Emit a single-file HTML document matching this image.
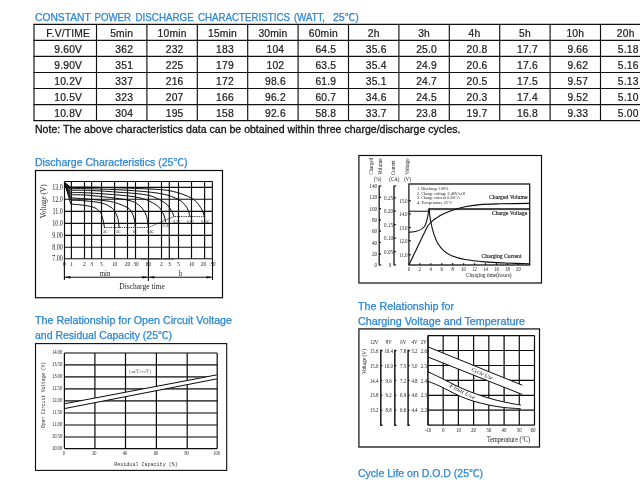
<!DOCTYPE html>
<html><head><meta charset="utf-8"><title>Discharge characteristics</title>
<style>
html,body{margin:0;padding:0;background:#fff;}
body{width:640px;height:482px;overflow:hidden;font-family:"Liberation Sans","Noto Sans CJK SC",sans-serif;}
svg{display:block;position:absolute;left:0;top:0}
.h{font-family:"Liberation Sans","Noto Sans CJK SC",sans-serif;fill:#2a86d2;stroke:#2a86d2;stroke-width:0.25px;font-size:10.6px}
.t{font-family:"Liberation Sans",sans-serif;fill:#1c1c1c;stroke:#1c1c1c;stroke-width:0.22px;font-size:10.3px;text-anchor:middle;letter-spacing:0.2px}
.n{font-family:"Liberation Sans",sans-serif;fill:#111;stroke:#111;stroke-width:0.3px;font-size:10.3px}
.s{font-family:"Liberation Serif","Noto Serif CJK SC",serif;fill:#222}
.m{font-family:"Liberation Mono","Noto Sans CJK SC",monospace;fill:#333}
.g{stroke:#0a0a0a;fill:none}
</style></head><body>
<svg width="640" height="482" viewBox="0 0 640 482">
<defs><filter id="b" x="-5%" y="-5%" width="110%" height="110%"><feGaussianBlur stdDeviation="0.38"/></filter></defs>

<text x="35" y="21.2" class="h" textLength="55.75" lengthAdjust="spacingAndGlyphs" >CONSTANT</text>
<text x="94.5" y="21.2" class="h" textLength="36.5" lengthAdjust="spacingAndGlyphs" >POWER</text>
<text x="135.5" y="21.2" class="h" textLength="58.25" lengthAdjust="spacingAndGlyphs" >DISCHARGE</text>
<text x="198" y="21.2" class="h" textLength="91.9" lengthAdjust="spacingAndGlyphs" >CHARACTERISTICS</text>
<text x="294" y="21.2" class="h" textLength="31" lengthAdjust="spacingAndGlyphs" >(WATT,</text>
<text x="333" y="21.2" class="h" textLength="25.7" lengthAdjust="spacingAndGlyphs" >25℃)</text>
<text x="35" y="132.5" class="n" textLength="425.5" lengthAdjust="spacingAndGlyphs" >Note: The above characteristics data can be obtained within three charge/discharge cycles.</text>
<text x="35" y="165.5" class="h" textLength="152.5" lengthAdjust="spacingAndGlyphs" >Discharge Characteristics (25℃)</text>
<text x="35" y="324.0" class="h" textLength="197" lengthAdjust="spacingAndGlyphs" >The Relationship for Open Circuit Voltage</text>
<text x="35" y="338.5" class="h" textLength="137" lengthAdjust="spacingAndGlyphs" >and Residual Capacity (25℃)</text>
<text x="358" y="310.1" class="h" textLength="96" lengthAdjust="spacingAndGlyphs" >The Relationship for</text>
<text x="358" y="324.5" class="h" textLength="167" lengthAdjust="spacingAndGlyphs" >Charging Voltage and Temperature</text>
<text x="358" y="476.5" class="h" textLength="125" lengthAdjust="spacingAndGlyphs" >Cycle Life on D.O.D (25℃)</text>
<g stroke="#111" stroke-width="1.15" fill="none">
<line x1="33.4" y1="24.30" x2="640" y2="24.30"/>
<line x1="33.4" y1="40.35" x2="640" y2="40.35"/>
<line x1="33.4" y1="56.40" x2="640" y2="56.40"/>
<line x1="33.4" y1="72.45" x2="640" y2="72.45"/>
<line x1="33.4" y1="88.50" x2="640" y2="88.50"/>
<line x1="33.4" y1="104.55" x2="640" y2="104.55"/>
<line x1="33.4" y1="120.60" x2="640" y2="120.60"/>
<line x1="34.00" y1="24.30" x2="34.00" y2="120.60"/>
<line x1="96.50" y1="24.30" x2="96.50" y2="120.60"/>
<line x1="146.90" y1="24.30" x2="146.90" y2="120.60"/>
<line x1="197.30" y1="24.30" x2="197.30" y2="120.60"/>
<line x1="247.70" y1="24.30" x2="247.70" y2="120.60"/>
<line x1="298.10" y1="24.30" x2="298.10" y2="120.60"/>
<line x1="348.50" y1="24.30" x2="348.50" y2="120.60"/>
<line x1="398.90" y1="24.30" x2="398.90" y2="120.60"/>
<line x1="449.30" y1="24.30" x2="449.30" y2="120.60"/>
<line x1="499.70" y1="24.30" x2="499.70" y2="120.60"/>
<line x1="550.10" y1="24.30" x2="550.10" y2="120.60"/>
<line x1="600.50" y1="24.30" x2="600.50" y2="120.60"/>
</g>
<text x="68.2" y="36.5" class="t" >F.V/TIME</text>
<text x="121.7" y="36.5" class="t" >5min</text>
<text x="172.1" y="36.5" class="t" >10min</text>
<text x="222.5" y="36.5" class="t" >15min</text>
<text x="272.9" y="36.5" class="t" >30min</text>
<text x="323.3" y="36.5" class="t" >60min</text>
<text x="373.7" y="36.5" class="t" >2h</text>
<text x="424.1" y="36.5" class="t" >3h</text>
<text x="474.5" y="36.5" class="t" >4h</text>
<text x="524.9" y="36.5" class="t" >5h</text>
<text x="575.3" y="36.5" class="t" >10h</text>
<text x="625.7" y="36.5" class="t" >20h</text>
<text x="68.2" y="52.5" class="t" >9.60V</text>
<text x="124.2" y="52.5" class="t" >362</text>
<text x="174.6" y="52.5" class="t" >232</text>
<text x="225.0" y="52.5" class="t" >183</text>
<text x="275.4" y="52.5" class="t" >104</text>
<text x="325.8" y="52.5" class="t" >64.5</text>
<text x="376.2" y="52.5" class="t" >35.6</text>
<text x="426.6" y="52.5" class="t" >25.0</text>
<text x="477.0" y="52.5" class="t" >20.8</text>
<text x="527.4" y="52.5" class="t" >17.7</text>
<text x="577.8" y="52.5" class="t" >9.66</text>
<text x="628.2" y="52.5" class="t" >5.18</text>
<text x="68.2" y="68.6" class="t" >9.90V</text>
<text x="124.2" y="68.6" class="t" >351</text>
<text x="174.6" y="68.6" class="t" >225</text>
<text x="225.0" y="68.6" class="t" >179</text>
<text x="275.4" y="68.6" class="t" >102</text>
<text x="325.8" y="68.6" class="t" >63.5</text>
<text x="376.2" y="68.6" class="t" >35.4</text>
<text x="426.6" y="68.6" class="t" >24.9</text>
<text x="477.0" y="68.6" class="t" >20.6</text>
<text x="527.4" y="68.6" class="t" >17.6</text>
<text x="577.8" y="68.6" class="t" >9.62</text>
<text x="628.2" y="68.6" class="t" >5.16</text>
<text x="68.2" y="84.7" class="t" >10.2V</text>
<text x="124.2" y="84.7" class="t" >337</text>
<text x="174.6" y="84.7" class="t" >216</text>
<text x="225.0" y="84.7" class="t" >172</text>
<text x="275.4" y="84.7" class="t" >98.6</text>
<text x="325.8" y="84.7" class="t" >61.9</text>
<text x="376.2" y="84.7" class="t" >35.1</text>
<text x="426.6" y="84.7" class="t" >24.7</text>
<text x="477.0" y="84.7" class="t" >20.5</text>
<text x="527.4" y="84.7" class="t" >17.5</text>
<text x="577.8" y="84.7" class="t" >9.57</text>
<text x="628.2" y="84.7" class="t" >5.13</text>
<text x="68.2" y="100.7" class="t" >10.5V</text>
<text x="124.2" y="100.7" class="t" >323</text>
<text x="174.6" y="100.7" class="t" >207</text>
<text x="225.0" y="100.7" class="t" >166</text>
<text x="275.4" y="100.7" class="t" >96.2</text>
<text x="325.8" y="100.7" class="t" >60.7</text>
<text x="376.2" y="100.7" class="t" >34.6</text>
<text x="426.6" y="100.7" class="t" >24.5</text>
<text x="477.0" y="100.7" class="t" >20.3</text>
<text x="527.4" y="100.7" class="t" >17.4</text>
<text x="577.8" y="100.7" class="t" >9.52</text>
<text x="628.2" y="100.7" class="t" >5.10</text>
<text x="68.2" y="116.8" class="t" >10.8V</text>
<text x="124.2" y="116.8" class="t" >304</text>
<text x="174.6" y="116.8" class="t" >195</text>
<text x="225.0" y="116.8" class="t" >158</text>
<text x="275.4" y="116.8" class="t" >92.6</text>
<text x="325.8" y="116.8" class="t" >58.8</text>
<text x="376.2" y="116.8" class="t" >33.7</text>
<text x="426.6" y="116.8" class="t" >23.8</text>
<text x="477.0" y="116.8" class="t" >19.7</text>
<text x="527.4" y="116.8" class="t" >16.8</text>
<text x="577.8" y="116.8" class="t" >9.33</text>
<text x="628.2" y="116.8" class="t" >5.00</text>
<g filter="url(#b)">
<rect x="35.5" y="170.5" width="187" height="127.2" class="g" stroke-width="1.2"/>
<g class="g" stroke-width="1.15">
<line x1="64.5" y1="181.4" x2="64.5" y2="258.7"/>
<line x1="71.4" y1="181.4" x2="71.4" y2="258.7"/>
<line x1="84.5" y1="181.4" x2="84.5" y2="258.7"/>
<line x1="91.6" y1="181.4" x2="91.6" y2="258.7"/>
<line x1="101.5" y1="181.4" x2="101.5" y2="258.7"/>
<line x1="114.6" y1="181.4" x2="114.6" y2="258.7"/>
<line x1="127.5" y1="181.4" x2="127.5" y2="258.7"/>
<line x1="135.5" y1="181.4" x2="135.5" y2="258.7"/>
<line x1="148.5" y1="181.4" x2="148.5" y2="258.7"/>
<line x1="161.5" y1="181.4" x2="161.5" y2="258.7"/>
<line x1="169.3" y1="181.4" x2="169.3" y2="258.7"/>
<line x1="178.5" y1="181.4" x2="178.5" y2="258.7"/>
<line x1="191.5" y1="181.4" x2="191.5" y2="258.7"/>
<line x1="204.6" y1="181.4" x2="204.6" y2="258.7"/>
<line x1="212.4" y1="181.4" x2="212.4" y2="258.7"/>
<line x1="64.4" y1="181.5" x2="212.5" y2="181.5"/>
<line x1="64.4" y1="187.3" x2="212.5" y2="187.3"/>
<line x1="64.4" y1="199.2" x2="212.5" y2="199.2"/>
<line x1="64.4" y1="211.4" x2="212.5" y2="211.4"/>
<line x1="64.4" y1="223.4" x2="212.5" y2="223.4"/>
<line x1="64.4" y1="235.4" x2="212.5" y2="235.4"/>
<line x1="64.4" y1="247.2" x2="212.5" y2="247.2"/>
<line x1="64.4" y1="258.7" x2="212.5" y2="258.7"/>
</g>
<g class="g" stroke-width="1.0">
<path d="M64.4,182.4 L70.8,204 C73.1,204.2 80.7,204.8 84.5,205.4 C88.3,206.0 91.2,206.5 93.5,207.3 C95.8,208.1 97.2,209.2 98.5,210.4 C99.8,211.7 100.8,212.8 101.6,214.8 C102.4,216.8 103.0,220.0 103.5,222.2 C104.0,224.4 104.3,226.9 104.5,227.8"/>
<path d="M64.4,182.4 L70.8,200.2 C73.1,200.3 79.4,200.3 84.5,200.8 C89.6,201.3 97.2,201.9 101.6,203.0 C106.0,204.1 108.8,205.9 111.0,207.3 C113.2,208.7 113.6,209.7 114.8,211.6 C115.9,213.5 117.2,215.8 117.9,218.5 C118.6,221.2 119.0,226.2 119.2,227.8"/>
<path d="M64.4,182.4 L70.8,197.8 C75.9,198.2 94.3,199.5 101.6,200.3 C108.9,201.1 110.4,201.4 114.8,202.6 C119.1,203.8 124.6,205.9 127.5,207.6 C130.4,209.3 130.9,210.9 132.0,212.8 C133.1,214.7 133.7,216.5 134.3,219.0 C134.9,221.5 135.2,226.3 135.4,227.8"/>
<path d="M64.4,182.4 L70.8,194.8 C74.0,194.9 80.5,194.5 90.0,195.4 C99.5,196.3 119.2,198.3 127.5,200.1 C135.8,201.9 136.9,203.6 140.0,206.1 C143.1,208.6 144.8,211.7 146.2,215.3 C147.6,218.9 148.0,225.6 148.4,227.6"/>
<path d="M64.4,182.4 L70.8,192.6 C74.0,192.7 79.2,192.3 90.0,193.0 C100.8,193.7 124.7,195.1 135.6,197.0 C146.5,198.9 151.0,201.8 155.6,204.6 C160.2,207.3 161.5,210.6 163.2,213.5 C164.9,216.4 165.2,220.6 165.6,222.0"/>
<path d="M64.4,182.4 L70.8,190.2 C74.0,190.2 81.8,190.1 90.0,190.4 C98.2,190.8 110.2,191.5 120.0,192.3 C129.8,193.1 141.1,193.6 148.6,195.4 C156.1,197.2 161.2,200.5 165.0,203.0 C168.8,205.5 169.8,208.3 171.3,210.6 C172.8,212.9 173.7,215.7 174.2,216.7"/>
<path d="M64.4,182.4 L70.8,188.6 C74.0,188.6 80.1,188.4 90.0,188.7 C99.9,189.0 118.1,189.6 130.0,190.4 C141.9,191.2 153.5,192.3 161.6,193.8 C169.7,195.3 174.6,197.6 178.6,199.6 C182.6,201.6 183.9,203.8 185.6,205.8 C187.3,207.8 187.9,209.7 188.6,211.5 C189.3,213.3 189.7,215.8 189.9,216.7"/>
<path d="M64.4,182.4 L70.8,187.2 C74.0,187.2 78.5,187.0 90.0,187.2 C101.5,187.4 126.7,188.0 140.0,188.6 C153.3,189.2 161.3,189.2 170.0,190.8 C178.7,192.4 186.7,195.5 191.9,198.4 C197.1,201.3 199.1,205.4 201.2,208.4 C203.3,211.4 203.9,215.3 204.4,216.7"/>
</g>
<path d="M104.2,227.5 H148.4 L173.9,216.6 H204.4" class="g" stroke-width="0.8" stroke-dasharray="1.3 0.9" stroke="#333"/>
<text class="s" font-size="4.8" text-anchor="middle" transform="translate(105.3,233) scale(0.8,1)" fill="#111">3C</text>
<text class="s" font-size="4.8" text-anchor="middle" transform="translate(118.5,233) scale(0.8,1)" fill="#111">2C</text>
<text class="s" font-size="4.8" text-anchor="middle" transform="translate(134.6,233) scale(0.8,1)" fill="#111">1C</text>
<text class="s" font-size="4.8" text-anchor="middle" transform="translate(150.5,233) scale(0.8,1)" fill="#111">0.6C</text>
<text class="s" font-size="4.8" text-anchor="middle" transform="translate(166.5,227.2) scale(0.8,1)" fill="#111">0.3C</text>
<text class="s" font-size="4.8" text-anchor="middle" transform="translate(177,222.6) scale(0.8,1)" fill="#111">0.2C</text>
<text class="s" font-size="4.8" text-anchor="middle" transform="translate(190.5,222.6) scale(0.8,1)" fill="#111">0.1C</text>
<text class="s" font-size="4.8" text-anchor="middle" transform="translate(205.5,222.6) scale(0.8,1)" fill="#111">0.05C</text>
<text class="s" font-size="7.3" text-anchor="end" transform="translate(62.8,189.60000000000002) scale(0.83,1)" >13.0</text>
<text class="s" font-size="7.3" text-anchor="end" transform="translate(62.8,201.5) scale(0.83,1)" >12.0</text>
<text class="s" font-size="7.3" text-anchor="end" transform="translate(62.8,213.70000000000002) scale(0.83,1)" >11.0</text>
<text class="s" font-size="7.3" text-anchor="end" transform="translate(62.8,225.70000000000002) scale(0.83,1)" >10.0</text>
<text class="s" font-size="7.3" text-anchor="end" transform="translate(62.8,237.70000000000002) scale(0.83,1)" >9.00</text>
<text class="s" font-size="7.3" text-anchor="end" transform="translate(62.8,249.5) scale(0.83,1)" >8.00</text>
<text class="s" font-size="7.3" text-anchor="end" transform="translate(62.8,261.0) scale(0.83,1)" >7.00</text>
<text class="s" font-size="7.6" text-anchor="middle" transform="translate(45.6,201.3) rotate(-90) scale(1,1)" textLength="34" lengthAdjust="spacingAndGlyphs" >Voltage (V)</text>
<text class="s" font-size="6.6" text-anchor="middle" transform="translate(64.4,265.6) scale(0.85,1)" >0</text>
<text class="s" font-size="6.6" text-anchor="middle" transform="translate(71.4,265.6) scale(0.85,1)" >1</text>
<text class="s" font-size="6.6" text-anchor="middle" transform="translate(84.5,265.6) scale(0.85,1)" >2</text>
<text class="s" font-size="6.6" text-anchor="middle" transform="translate(91.6,265.6) scale(0.85,1)" >3</text>
<text class="s" font-size="6.6" text-anchor="middle" transform="translate(101.5,265.6) scale(0.85,1)" >5</text>
<text class="s" font-size="6.6" text-anchor="middle" transform="translate(114.6,265.6) scale(0.85,1)" >10</text>
<text class="s" font-size="6.6" text-anchor="middle" transform="translate(127.5,265.6) scale(0.85,1)" >20</text>
<text class="s" font-size="6.6" text-anchor="middle" transform="translate(136.0,265.6) scale(0.85,1)" >30</text>
<text class="s" font-size="6.6" text-anchor="middle" transform="translate(148.5,265.6) scale(0.85,1)" >60</text>
<text class="s" font-size="6.6" text-anchor="middle" transform="translate(161.5,265.6) scale(0.85,1)" >2</text>
<text class="s" font-size="6.6" text-anchor="middle" transform="translate(169.3,265.6) scale(0.85,1)" >3</text>
<text class="s" font-size="6.6" text-anchor="middle" transform="translate(178.5,265.6) scale(0.85,1)" >5</text>
<text class="s" font-size="6.6" text-anchor="middle" transform="translate(191.5,265.6) scale(0.85,1)" >10</text>
<text class="s" font-size="6.6" text-anchor="middle" transform="translate(203.6,265.6) scale(0.85,1)" >20</text>
<text class="s" font-size="6.6" text-anchor="middle" transform="translate(212.8,265.6) scale(0.85,1)" >30</text>
<g class="g" stroke-width="1.1"><line x1="64.4" y1="258.6" x2="64.4" y2="280"/><line x1="148.4" y1="258.6" x2="148.4" y2="281"/><line x1="212.5" y1="258.6" x2="212.5" y2="280"/><line x1="64.4" y1="277.3" x2="212.5" y2="277.3"/></g>
<path d="M64.4,277.3 l6,-1.2 v2.4z M148.4,277.3 l-6,-1.2 v2.4z M148.4,277.3 l6,-1.2 v2.4z M212.5,277.3 l-6,-1.2 v2.4z" fill="#111"/>
<line x1="141" y1="259" x2="174" y2="259" stroke="#444" stroke-width="1.1"/>
<text class="s" font-size="7.6" text-anchor="middle" transform="translate(105,276.4) scale(0.9,1)" >min</text>
<text class="s" font-size="7.6" text-anchor="middle" transform="translate(180.5,276.4) scale(0.9,1)" >h</text>
<text class="s" font-size="8.2" text-anchor="middle" transform="translate(142,288.6) scale(1,1)" textLength="45.5" lengthAdjust="spacingAndGlyphs" >Discharge time</text>
</g>
<g filter="url(#b)">
<rect x="358.9" y="155.5" width="182.6" height="127.5" class="g" stroke-width="1.15"/>
<rect x="408.9" y="184" width="120.8" height="81" class="g" stroke-width="1.2"/>
<g class="g" stroke-width="1.2">
<path d="M381.4,186 H379.2 V265 H381.4"/>
<path d="M396.2,186 H394 V265 H396.2"/>
<line x1="379.2" y1="197.3" x2="381" y2="197.3"/>
<line x1="379.2" y1="208.6" x2="381" y2="208.6"/>
<line x1="379.2" y1="219.9" x2="381" y2="219.9"/>
<line x1="379.2" y1="231.2" x2="381" y2="231.2"/>
<line x1="379.2" y1="242.5" x2="381" y2="242.5"/>
<line x1="379.2" y1="253.8" x2="381" y2="253.8"/>
<line x1="394" y1="251.6" x2="395.8" y2="251.6"/>
<line x1="394" y1="238.1" x2="395.8" y2="238.1"/>
<line x1="394" y1="224.7" x2="395.8" y2="224.7"/>
<line x1="394" y1="211.2" x2="395.8" y2="211.2"/>
<line x1="394" y1="197.8" x2="395.8" y2="197.8"/>
<line x1="408.9" y1="200.8" x2="410.8" y2="200.8"/>
<line x1="408.9" y1="214" x2="410.8" y2="214"/>
<line x1="408.9" y1="227.5" x2="410.8" y2="227.5"/>
<line x1="408.9" y1="240.8" x2="410.8" y2="240.8"/>
<line x1="408.9" y1="254.8" x2="410.8" y2="254.8"/>
<line x1="419.8" y1="265" x2="419.8" y2="263.2"/>
<line x1="430.8" y1="265" x2="430.8" y2="263.2"/>
<line x1="441.8" y1="265" x2="441.8" y2="263.2"/>
<line x1="452.7" y1="265" x2="452.7" y2="263.2"/>
<line x1="463.6" y1="265" x2="463.6" y2="263.2"/>
<line x1="474.6" y1="265" x2="474.6" y2="263.2"/>
<line x1="485.5" y1="265" x2="485.5" y2="263.2"/>
<line x1="496.5" y1="265" x2="496.5" y2="263.2"/>
<line x1="507.4" y1="265" x2="507.4" y2="263.2"/>
<line x1="518.4" y1="265" x2="518.4" y2="263.2"/>
</g>
<g class="g" stroke-width="1.1">
<path d="M408.9,211.3 H428.2 L429.1,209.2 C429.4,211.2 429.8,216.9 430.6,221.0 C431.4,225.1 432.6,230.2 433.8,233.9 C435.0,237.6 436.0,240.4 437.7,243.2 C439.4,246.0 441.6,248.7 443.9,250.8 C446.2,252.9 448.2,254.2 451.7,255.7 C455.2,257.1 459.4,258.5 465.0,259.5 C470.6,260.5 478.3,261.3 485.0,261.9 C491.7,262.5 497.6,262.7 505.0,263.0 C512.5,263.3 525.6,263.7 529.7,263.8"/>
<path d="M408.9,232.2 C415,232 421,231 424.5,226.5 C427,222.5 428,216 429,208.7 H529.7"/>
<path d="M429.5,209.6 H529.7" stroke-width="0.7"/>
<path d="M408.9,265 L427.6,226 C428.3,225.2 430.6,222.6 432.0,221.3 C433.4,220.0 434.6,219.3 436.1,218.3 C437.6,217.3 438.2,216.5 440.8,215.2 C443.4,213.9 447.7,212.0 451.7,210.6 C455.7,209.2 460.3,207.7 465.0,206.7 C469.7,205.7 474.2,205.1 480.0,204.6 C485.8,204.1 491.7,204.0 500.0,203.8 C508.3,203.6 524.8,203.5 529.7,203.4"/>
</g>
<text class="s" font-size="6" text-anchor="end" transform="translate(377.2,188.0) scale(0.88,1)" >140</text>
<text class="s" font-size="6" text-anchor="end" transform="translate(377.2,199.3) scale(0.88,1)" >120</text>
<text class="s" font-size="6" text-anchor="end" transform="translate(377.2,210.6) scale(0.88,1)" >100</text>
<text class="s" font-size="6" text-anchor="end" transform="translate(377.2,221.9) scale(0.88,1)" >80</text>
<text class="s" font-size="6" text-anchor="end" transform="translate(377.2,233.2) scale(0.88,1)" >60</text>
<text class="s" font-size="6" text-anchor="end" transform="translate(377.2,244.5) scale(0.88,1)" >40</text>
<text class="s" font-size="6" text-anchor="end" transform="translate(377.2,255.8) scale(0.88,1)" >20</text>
<text class="s" font-size="6" text-anchor="end" transform="translate(377.2,267.1) scale(0.88,1)" >0</text>
<text class="s" font-size="6" text-anchor="end" transform="translate(391.3,267.0) scale(0.85,1)" >0</text>
<text class="s" font-size="6" text-anchor="end" transform="translate(393,253.6) scale(0.85,1)" >0.05</text>
<text class="s" font-size="6" text-anchor="end" transform="translate(393,240.1) scale(0.85,1)" >0.10</text>
<text class="s" font-size="6" text-anchor="end" transform="translate(393,226.7) scale(0.85,1)" >0.15</text>
<text class="s" font-size="6" text-anchor="end" transform="translate(393,213.2) scale(0.85,1)" >0.20</text>
<text class="s" font-size="6" text-anchor="end" transform="translate(393,199.8) scale(0.85,1)" >0.25</text>
<text class="s" font-size="6" text-anchor="end" transform="translate(407.6,202.8) scale(0.83,1)" >15.0</text>
<text class="s" font-size="6" text-anchor="end" transform="translate(407.6,216.0) scale(0.83,1)" >14.0</text>
<text class="s" font-size="6" text-anchor="end" transform="translate(407.6,229.5) scale(0.83,1)" >13.0</text>
<text class="s" font-size="6" text-anchor="end" transform="translate(407.6,242.8) scale(0.83,1)" >12.0</text>
<text class="s" font-size="6" text-anchor="end" transform="translate(407.6,256.8) scale(0.83,1)" >11.0</text>
<text class="s" font-size="5.8" text-anchor="middle" transform="translate(408.9,270.8) scale(0.82,1)" >0</text>
<text class="s" font-size="5.8" text-anchor="middle" transform="translate(419.8,270.8) scale(0.82,1)" >2</text>
<text class="s" font-size="5.8" text-anchor="middle" transform="translate(430.8,270.8) scale(0.82,1)" >4</text>
<text class="s" font-size="5.8" text-anchor="middle" transform="translate(441.8,270.8) scale(0.82,1)" >6</text>
<text class="s" font-size="5.8" text-anchor="middle" transform="translate(452.7,270.8) scale(0.82,1)" >8</text>
<text class="s" font-size="5.8" text-anchor="middle" transform="translate(463.6,270.8) scale(0.82,1)" >10</text>
<text class="s" font-size="5.8" text-anchor="middle" transform="translate(474.6,270.8) scale(0.82,1)" >12</text>
<text class="s" font-size="5.8" text-anchor="middle" transform="translate(485.5,270.8) scale(0.82,1)" >14</text>
<text class="s" font-size="5.8" text-anchor="middle" transform="translate(496.5,270.8) scale(0.82,1)" >16</text>
<text class="s" font-size="5.8" text-anchor="middle" transform="translate(507.4,270.8) scale(0.82,1)" >18</text>
<text class="s" font-size="5.8" text-anchor="middle" transform="translate(518.4,270.8) scale(0.82,1)" >20</text>
<text class="s" font-size="5.8" text-anchor="middle" transform="translate(488.7,276.8) scale(1,1)" textLength="45.5" lengthAdjust="spacingAndGlyphs" >Charging time(hours)</text>
<text class="s" font-size="4.7" text-anchor="start" transform="translate(417,189.8) scale(1,1)" textLength="31.5" lengthAdjust="spacingAndGlyphs" >1. Discharge 100%</text>
<text class="s" font-size="4.7" text-anchor="start" transform="translate(417,194.5) scale(1,1)" textLength="48" lengthAdjust="spacingAndGlyphs" >2. Charge voltage 2.40V/cell</text>
<text class="s" font-size="4.7" text-anchor="start" transform="translate(417,199.2) scale(1,1)" textLength="43" lengthAdjust="spacingAndGlyphs" >3. Charge current 0.20CA</text>
<text class="s" font-size="4.7" text-anchor="start" transform="translate(417,203.9) scale(1,1)" textLength="35.5" lengthAdjust="spacingAndGlyphs" >4. Temperature 25°C</text>
<text class="s" font-size="5.8" text-anchor="start" transform="translate(489,198.7) scale(1,1)" textLength="38.5" lengthAdjust="spacingAndGlyphs" fill="#1a1a30" stroke="#1a1a30" stroke-width="0.15">Charged Volume</text>
<text class="s" font-size="5.8" text-anchor="start" transform="translate(491.8,214.6) scale(1,1)" textLength="35.5" lengthAdjust="spacingAndGlyphs" fill="#1a1a30" stroke="#1a1a30" stroke-width="0.15">Charge Voltage</text>
<text class="s" font-size="5.8" text-anchor="start" transform="translate(481.5,258.3) scale(1,1)" textLength="40" lengthAdjust="spacingAndGlyphs" fill="#1a1a30" stroke="#1a1a30" stroke-width="0.15">Charging Current</text>
<text class="s" font-size="5.8" text-anchor="middle" transform="translate(377.5,180.8) scale(0.85,1)" >(%)</text>
<text class="s" font-size="5.8" text-anchor="middle" transform="translate(394.3,180.6) scale(0.85,1)" >(CA)</text>
<text class="s" font-size="5.8" text-anchor="middle" transform="translate(407.6,180.6) scale(0.85,1)" >(V)</text>
<text class="s" font-size="6.6" text-anchor="start" transform="translate(372.6,174.8) rotate(-90) scale(1,1)" textLength="17" lengthAdjust="spacingAndGlyphs" >Charged</text>
<text class="s" font-size="6.6" text-anchor="start" transform="translate(381.6,174.8) rotate(-90) scale(1,1)" textLength="16.5" lengthAdjust="spacingAndGlyphs" >Volume</text>
<text class="s" font-size="6.6" text-anchor="start" transform="translate(395.4,174.8) rotate(-90) scale(1,1)" textLength="14.5" lengthAdjust="spacingAndGlyphs" >Current</text>
<text class="s" font-size="6.6" text-anchor="start" transform="translate(408.8,174.8) rotate(-90) scale(1,1)" textLength="16.5" lengthAdjust="spacingAndGlyphs" >Voltage</text>
</g>
<g filter="url(#b)">
<rect x="35.5" y="343.6" width="191.2" height="126.8" class="g" stroke-width="1.1"/>
<g class="g" stroke-width="1.2">
<line x1="64.4" y1="353" x2="64.4" y2="448.6"/>
<line x1="94.9" y1="353" x2="94.9" y2="448.6"/>
<line x1="125.5" y1="353" x2="125.5" y2="448.6"/>
<line x1="156.4" y1="353" x2="156.4" y2="448.6"/>
<line x1="187.2" y1="353" x2="187.2" y2="448.6"/>
<line x1="217.2" y1="353" x2="217.2" y2="448.6"/>
<line x1="64.4" y1="353" x2="217.2" y2="353"/>
<line x1="64.4" y1="364.9" x2="217.2" y2="364.9"/>
<line x1="64.4" y1="376.9" x2="217.2" y2="376.9"/>
<line x1="64.4" y1="388.9" x2="217.2" y2="388.9"/>
<line x1="64.4" y1="400.8" x2="217.2" y2="400.8"/>
<line x1="64.4" y1="413" x2="217.2" y2="413"/>
<line x1="64.4" y1="425" x2="217.2" y2="425"/>
<line x1="64.4" y1="437" x2="217.2" y2="437"/>
<line x1="64.4" y1="448.6" x2="217.2" y2="448.6"/>
</g>
<path d="M65,403.8 L216.6,374.8 V378.8 L65,408.6Z" fill="#fff" stroke="none"/>
<path d="M64.4,403.8 L217.2,374.8 M64.4,408.6 L217.2,378.8" class="g" stroke-width="1.0"/>
<text class="s" font-size="5.6" text-anchor="end" transform="translate(62.2,354.0) scale(0.82,1)" >14.00</text>
<text class="s" font-size="5.6" text-anchor="end" transform="translate(62.2,365.9) scale(0.82,1)" >13.50</text>
<text class="s" font-size="5.6" text-anchor="end" transform="translate(62.2,377.9) scale(0.82,1)" >13.00</text>
<text class="s" font-size="5.6" text-anchor="end" transform="translate(62.2,389.9) scale(0.82,1)" >12.50</text>
<text class="s" font-size="5.6" text-anchor="end" transform="translate(62.2,401.8) scale(0.82,1)" >12.00</text>
<text class="s" font-size="5.6" text-anchor="end" transform="translate(62.2,414.0) scale(0.82,1)" >11.50</text>
<text class="s" font-size="5.6" text-anchor="end" transform="translate(62.2,426.0) scale(0.82,1)" >11.00</text>
<text class="s" font-size="5.6" text-anchor="end" transform="translate(62.2,438.0) scale(0.82,1)" >10.50</text>
<text class="s" font-size="5.6" text-anchor="end" transform="translate(62.2,449.6) scale(0.82,1)" >10.00</text>
<text class="s" font-size="5.4" text-anchor="middle" transform="translate(63.800000000000004,454.9) scale(0.8,1)" >0</text>
<text class="s" font-size="5.4" text-anchor="middle" transform="translate(94.30000000000001,454.9) scale(0.8,1)" >20</text>
<text class="s" font-size="5.4" text-anchor="middle" transform="translate(124.9,454.9) scale(0.8,1)" >40</text>
<text class="s" font-size="5.4" text-anchor="middle" transform="translate(155.8,454.9) scale(0.8,1)" >60</text>
<text class="s" font-size="5.4" text-anchor="middle" transform="translate(186.6,454.9) scale(0.8,1)" >80</text>
<text class="s" font-size="5.4" text-anchor="middle" transform="translate(216.6,454.9) scale(0.8,1)" >100</text>
<text class="m" font-size="5.2" text-anchor="middle" transform="translate(146,465.8) scale(1,1)" textLength="63.5" lengthAdjust="spacingAndGlyphs" >Residual Capacity (%)</text>
<text class="m" font-size="5.2" text-anchor="middle" transform="translate(45.2,395) rotate(-90) scale(1,1)" textLength="66" lengthAdjust="spacingAndGlyphs" >Open Circuit Voltage (V)</text>
<text class="m" font-size="4.0" text-anchor="middle" transform="translate(140.3,373.3) scale(1,1)" textLength="23" lengthAdjust="spacingAndGlyphs" fill="#1a1a1a">(25℃/77℉)</text>
</g>
<g filter="url(#b)">
<rect x="358.9" y="328.9" width="180.6" height="118.1" class="g" stroke-width="1.2"/>
<g class="g" stroke-width="1.2">
<line x1="428.0" y1="335.6" x2="428.0" y2="425.2"/>
<line x1="443.2" y1="335.6" x2="443.2" y2="425.2"/>
<line x1="458.4" y1="335.6" x2="458.4" y2="425.2"/>
<line x1="473.6" y1="335.6" x2="473.6" y2="425.2"/>
<line x1="488.8" y1="335.6" x2="488.8" y2="425.2"/>
<line x1="504.1" y1="335.6" x2="504.1" y2="425.2"/>
<line x1="519.3" y1="335.6" x2="519.3" y2="425.2"/>
<line x1="534.5" y1="335.6" x2="534.5" y2="425.2"/>
<line x1="428" y1="335.6" x2="534.5" y2="335.6"/>
<line x1="428" y1="350.5" x2="534.5" y2="350.5"/>
<line x1="428" y1="365.5" x2="534.5" y2="365.5"/>
<line x1="428" y1="380.4" x2="534.5" y2="380.4"/>
<line x1="428" y1="395.3" x2="534.5" y2="395.3"/>
<line x1="428" y1="410.2" x2="534.5" y2="410.2"/>
<line x1="428" y1="425.2" x2="534.5" y2="425.2"/>
</g>
<path d="M429,347.1 L522.3,385.2 V394.5 L429,357.2Z" fill="#fff"/>
<path d="M428,346.9 L522.3,385.2 M428,357 L522.3,394.5" class="g" stroke-width="1.0"/>
<path d="M428,371.9 C430.0,372.8 434.9,375.0 440.0,377.5 C445.1,380.0 453.1,384.3 458.8,386.9 C464.4,389.5 468.8,391.2 473.8,393.1 C478.8,395.0 483.8,396.6 488.8,398.1 C493.8,399.6 498.4,400.7 503.8,401.9 C509.1,403.1 518.0,404.6 520.8,405.2 L520.8,408.75 C518.0,408.5 509.1,408.1 503.8,407.5 C498.4,406.9 493.8,406.0 488.8,405.0 C483.8,404.0 478.8,402.8 473.8,401.2 C468.8,399.7 464.4,398.1 458.8,395.6 C453.1,393.1 445.1,388.6 440.0,386.2 C434.9,383.9 430.0,382.1 428.0,381.2Z" fill="#fff"/>
<path d="M428,371.9 C430.0,372.8 434.9,375.0 440.0,377.5 C445.1,380.0 453.1,384.3 458.8,386.9 C464.4,389.5 468.8,391.2 473.8,393.1 C478.8,395.0 483.8,396.6 488.8,398.1 C493.8,399.6 498.4,400.7 503.8,401.9 C509.1,403.1 518.0,404.6 520.8,405.2 M428,381.25 C430.0,382.1 434.9,383.9 440.0,386.2 C445.1,388.6 453.1,393.1 458.8,395.6 C464.4,398.1 468.8,399.7 473.8,401.2 C478.8,402.8 483.8,404.0 488.8,405.0 C493.8,406.0 498.4,406.9 503.8,407.5 C509.1,408.1 518.0,408.5 520.8,408.8" class="g" stroke-width="1.0"/>
<line x1="428" y1="335.6" x2="428" y2="425.2" class="g" stroke-width="1.2"/>
<path d="M382.40000000000003,350.5 H380.8 V425.2 H382.40000000000003" class="g" stroke-width="1.4"/>
<line x1="380.8" y1="365.5" x2="382.3" y2="365.5" class="g" stroke-width="0.9"/>
<line x1="380.8" y1="380.4" x2="382.3" y2="380.4" class="g" stroke-width="0.9"/>
<line x1="380.8" y1="395.3" x2="382.3" y2="395.3" class="g" stroke-width="0.9"/>
<line x1="380.8" y1="410.2" x2="382.3" y2="410.2" class="g" stroke-width="0.9"/>
<path d="M396.40000000000003,350.5 H394.8 V425.2 H396.40000000000003" class="g" stroke-width="1.4"/>
<line x1="394.8" y1="365.5" x2="396.3" y2="365.5" class="g" stroke-width="0.9"/>
<line x1="394.8" y1="380.4" x2="396.3" y2="380.4" class="g" stroke-width="0.9"/>
<line x1="394.8" y1="395.3" x2="396.3" y2="395.3" class="g" stroke-width="0.9"/>
<line x1="394.8" y1="410.2" x2="396.3" y2="410.2" class="g" stroke-width="0.9"/>
<path d="M409.70000000000005,350.5 H408.1 V425.2 H409.70000000000005" class="g" stroke-width="1.4"/>
<line x1="408.1" y1="365.5" x2="409.6" y2="365.5" class="g" stroke-width="0.9"/>
<line x1="408.1" y1="380.4" x2="409.6" y2="380.4" class="g" stroke-width="0.9"/>
<line x1="408.1" y1="395.3" x2="409.6" y2="395.3" class="g" stroke-width="0.9"/>
<line x1="408.1" y1="410.2" x2="409.6" y2="410.2" class="g" stroke-width="0.9"/>
<text class="s" font-size="6.4" text-anchor="middle" transform="translate(374.2,343.5) scale(0.76,1)" >12V</text>
<text class="s" font-size="6.4" text-anchor="middle" transform="translate(388.7,343.5) scale(0.76,1)" >8V</text>
<text class="s" font-size="6.4" text-anchor="middle" transform="translate(403.2,343.5) scale(0.76,1)" >6V</text>
<text class="s" font-size="6.4" text-anchor="middle" transform="translate(414.5,343.5) scale(0.76,1)" >4V</text>
<text class="s" font-size="6.4" text-anchor="middle" transform="translate(423.8,343.5) scale(0.76,1)" >2V</text>
<text class="s" font-size="6.6" text-anchor="middle" transform="translate(374.2,352.6) scale(0.75,1)" >15.6</text>
<text class="s" font-size="6.6" text-anchor="middle" transform="translate(388.7,352.6) scale(0.75,1)" >10.4</text>
<text class="s" font-size="6.6" text-anchor="middle" transform="translate(403.2,352.6) scale(0.75,1)" >7.8</text>
<text class="s" font-size="6.6" text-anchor="middle" transform="translate(414.5,352.6) scale(0.75,1)" >5.2</text>
<text class="s" font-size="6.6" text-anchor="middle" transform="translate(423.8,352.6) scale(0.75,1)" >2.6</text>
<text class="s" font-size="6.6" text-anchor="middle" transform="translate(374.2,367.6) scale(0.75,1)" >15.0</text>
<text class="s" font-size="6.6" text-anchor="middle" transform="translate(388.7,367.6) scale(0.75,1)" >10.0</text>
<text class="s" font-size="6.6" text-anchor="middle" transform="translate(403.2,367.6) scale(0.75,1)" >7.5</text>
<text class="s" font-size="6.6" text-anchor="middle" transform="translate(414.5,367.6) scale(0.75,1)" >5.0</text>
<text class="s" font-size="6.6" text-anchor="middle" transform="translate(423.8,367.6) scale(0.75,1)" >2.5</text>
<text class="s" font-size="6.6" text-anchor="middle" transform="translate(374.2,382.5) scale(0.75,1)" >14.4</text>
<text class="s" font-size="6.6" text-anchor="middle" transform="translate(388.7,382.5) scale(0.75,1)" >9.6</text>
<text class="s" font-size="6.6" text-anchor="middle" transform="translate(403.2,382.5) scale(0.75,1)" >7.2</text>
<text class="s" font-size="6.6" text-anchor="middle" transform="translate(414.5,382.5) scale(0.75,1)" >4.8</text>
<text class="s" font-size="6.6" text-anchor="middle" transform="translate(423.8,382.5) scale(0.75,1)" >2.4</text>
<text class="s" font-size="6.6" text-anchor="middle" transform="translate(374.2,397.4) scale(0.75,1)" >13.8</text>
<text class="s" font-size="6.6" text-anchor="middle" transform="translate(388.7,397.4) scale(0.75,1)" >9.2</text>
<text class="s" font-size="6.6" text-anchor="middle" transform="translate(403.2,397.4) scale(0.75,1)" >6.9</text>
<text class="s" font-size="6.6" text-anchor="middle" transform="translate(414.5,397.4) scale(0.75,1)" >4.6</text>
<text class="s" font-size="6.6" text-anchor="middle" transform="translate(423.8,397.4) scale(0.75,1)" >2.3</text>
<text class="s" font-size="6.6" text-anchor="middle" transform="translate(374.2,412.4) scale(0.75,1)" >13.2</text>
<text class="s" font-size="6.6" text-anchor="middle" transform="translate(388.7,412.4) scale(0.75,1)" >8.8</text>
<text class="s" font-size="6.6" text-anchor="middle" transform="translate(403.2,412.4) scale(0.75,1)" >6.6</text>
<text class="s" font-size="6.6" text-anchor="middle" transform="translate(414.5,412.4) scale(0.75,1)" >4.4</text>
<text class="s" font-size="6.6" text-anchor="middle" transform="translate(423.8,412.4) scale(0.75,1)" >2.2</text>
<text class="s" font-size="6.8" text-anchor="middle" transform="translate(428.0,432.2) scale(0.74,1)" >-10</text>
<text class="s" font-size="6.8" text-anchor="middle" transform="translate(443.2,432.2) scale(0.74,1)" >0</text>
<text class="s" font-size="6.8" text-anchor="middle" transform="translate(458.4,432.2) scale(0.74,1)" >10</text>
<text class="s" font-size="6.8" text-anchor="middle" transform="translate(473.6,432.2) scale(0.74,1)" >20</text>
<text class="s" font-size="6.8" text-anchor="middle" transform="translate(488.8,432.2) scale(0.74,1)" >30</text>
<text class="s" font-size="6.8" text-anchor="middle" transform="translate(504.1,432.2) scale(0.74,1)" >40</text>
<text class="s" font-size="6.8" text-anchor="middle" transform="translate(519.3,432.2) scale(0.74,1)" >50</text>
<text class="s" font-size="6.8" text-anchor="middle" transform="translate(533.1,432.2) scale(0.74,1)" >60</text>
<text class="s" font-size="7.4" text-anchor="middle" transform="translate(508.5,442.4) scale(1,1)" textLength="43" lengthAdjust="spacingAndGlyphs" >Temperature (°C)</text>
<text class="s" font-size="5.8" text-anchor="middle" transform="translate(366.4,361.5) rotate(-90) scale(1,1)" textLength="25" lengthAdjust="spacingAndGlyphs" >Voltage (V)</text>
<text class="s" font-size="5.6" text-anchor="middle" transform="translate(481.6,375.4) rotate(24) scale(1,1)" textLength="23" lengthAdjust="spacingAndGlyphs" font-style="italic" fill="#555">Cycle Use</text>
<text class="s" font-size="5.6" text-anchor="middle" transform="translate(461.8,393.2) rotate(27) scale(1,1)" textLength="28" lengthAdjust="spacingAndGlyphs" font-style="italic" fill="#555">Float Use</text>
</g>
</svg>
</body></html>
